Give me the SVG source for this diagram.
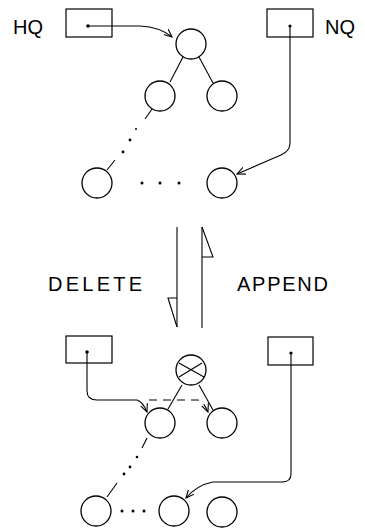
<svg xmlns="http://www.w3.org/2000/svg" width="365" height="530" viewBox="0 0 365 530">
<defs>
<marker id="arr" viewBox="0 0 10 10" refX="9" refY="5" markerWidth="9" markerHeight="9" markerUnits="userSpaceOnUse" orient="auto">
<path d="M0,1 L9,5 L0,9" fill="none" stroke="#000" stroke-width="1.2"/>
</marker>
<style>
.n{fill:#fff;stroke:#000;stroke-width:1.3}
.b{fill:#fff;stroke:#000;stroke-width:1.2}
.l{fill:none;stroke:#000;stroke-width:1.1}
.d{fill:#000}
.t{font-family:"Liberation Sans",Arial,sans-serif;font-size:20px;fill:#000}
</style>
</defs>
<rect width="365" height="530" fill="#fff"/>

<!-- top structure -->
<g id="hq-top">
<rect class="b" x="66" y="9" width="46" height="28"/>
<circle class="d" cx="88" cy="26" r="1.8"/>
<text class="t" x="13" y="34" font-size="20.5">HQ</text>
</g>
<g id="nq-top">
<rect class="b" x="267" y="9" width="46" height="28"/>
<circle class="d" cx="290" cy="26" r="1.6"/>
<text class="t" x="325" y="34" font-size="20.5">NQ</text>
</g>
<g id="t-root"><circle class="n" cx="191" cy="44" r="15"/></g>
<g id="t-left"><circle class="n" cx="160" cy="96" r="15"/></g>
<g id="t-right"><circle class="n" cx="222" cy="96" r="15"/></g>
<g id="t-bl"><circle class="n" cx="97" cy="183" r="15"/></g>
<g id="t-br"><circle class="n" cx="222" cy="183" r="15"/></g>
<g id="t-dots">
<circle class="d" cx="142" cy="183" r="1.5"/>
<circle class="d" cx="160" cy="183" r="1.5"/>
<circle class="d" cx="179" cy="183" r="1.5"/>
</g>

<!-- bottom structure -->
<g id="hq-bot">
<rect class="b" x="66" y="336" width="46" height="27"/>
<circle class="d" cx="87" cy="352" r="1.8"/>
</g>
<g id="nq-bot">
<rect class="b" x="268" y="337" width="45" height="28"/>
<circle class="d" cx="291" cy="353" r="1.6"/>
</g>
<g id="b-root">
<circle class="n" cx="191" cy="370" r="15"/>
<line class="l" x1="179" y1="363" x2="204" y2="377"/>
<line class="l" x1="179" y1="377" x2="202" y2="363"/>
</g>
<g id="b-left"><circle class="n" cx="160" cy="423" r="15"/></g>
<g id="b-right"><circle class="n" cx="222" cy="423" r="15"/></g>
<g id="b-bl"><circle class="n" cx="96" cy="511" r="15"/></g>
<g id="b-bm"><circle class="n" cx="174" cy="511" r="15"/></g>
<g id="b-br"><circle class="n" cx="222" cy="512" r="15"/></g>
<g id="b-dots">
<circle class="d" cx="122" cy="511" r="1.5"/>
<circle class="d" cx="133" cy="511" r="1.5"/>
<circle class="d" cx="144" cy="511" r="1.5"/>
</g>

<!-- middle transition -->
<g id="delete">
<line class="l" x1="177" y1="227" x2="177" y2="327"/>
<path class="l" d="M177,298 L168,298 L177,327"/>
<text class="t" x="48" y="291" textLength="94" lengthAdjust="spacing" font-size="20">DELETE</text>
</g>
<g id="append">
<line class="l" x1="202" y1="227" x2="202" y2="328"/>
<path class="l" d="M202,227 L213,257 L202,257"/>
<text class="t" x="237" y="291" textLength="91" lengthAdjust="spacing" font-size="20">APPEND</text>
</g>

<g id="connectors">
<!-- top tree -->
<line class="l" x1="183" y1="57" x2="170" y2="82"/>
<line class="l" x1="199" y1="57" x2="213" y2="83"/>
<line class="l" x1="152" y1="109" x2="145" y2="119"/>
<circle class="d" cx="136" cy="129" r="1"/>
<circle class="d" cx="130" cy="140" r="1.4"/>
<circle class="d" cx="123" cy="152" r="1.4"/>
<line class="l" x1="115" y1="160" x2="107" y2="170"/>
<path class="l" d="M88,26 L140,26 Q160,27 172,37" marker-end="url(#arr)"/>
<path class="l" d="M290,26 L290,143 Q290,151 281,155 L237,174" marker-end="url(#arr)"/>
<!-- bottom tree -->
<line class="l" x1="182" y1="385" x2="168" y2="409"/>
<line class="l" x1="199" y1="385" x2="213" y2="410"/>
<line class="l" x1="147" y1="438" x2="142" y2="448"/>
<circle class="d" cx="137" cy="457" r="1.3"/>
<circle class="d" cx="130" cy="467" r="1.4"/>
<circle class="d" cx="124" cy="474" r="1.4"/>
<line class="l" x1="117" y1="483" x2="107" y2="497"/>
<path class="l" d="M87,352 L87,391 Q87,400 97,400 L137,400 Q143,402 147,412" marker-end="url(#arr)"/>
<path class="l" d="M149,400 L198,400 Q204,402 208,412" stroke-dasharray="8,6" marker-end="url(#arr)"/>
<path class="l" d="M291,353 L291,474 Q291,482 282,482 L213,482 Q197,485 186,498" marker-end="url(#arr)"/>
</g>
</svg>
